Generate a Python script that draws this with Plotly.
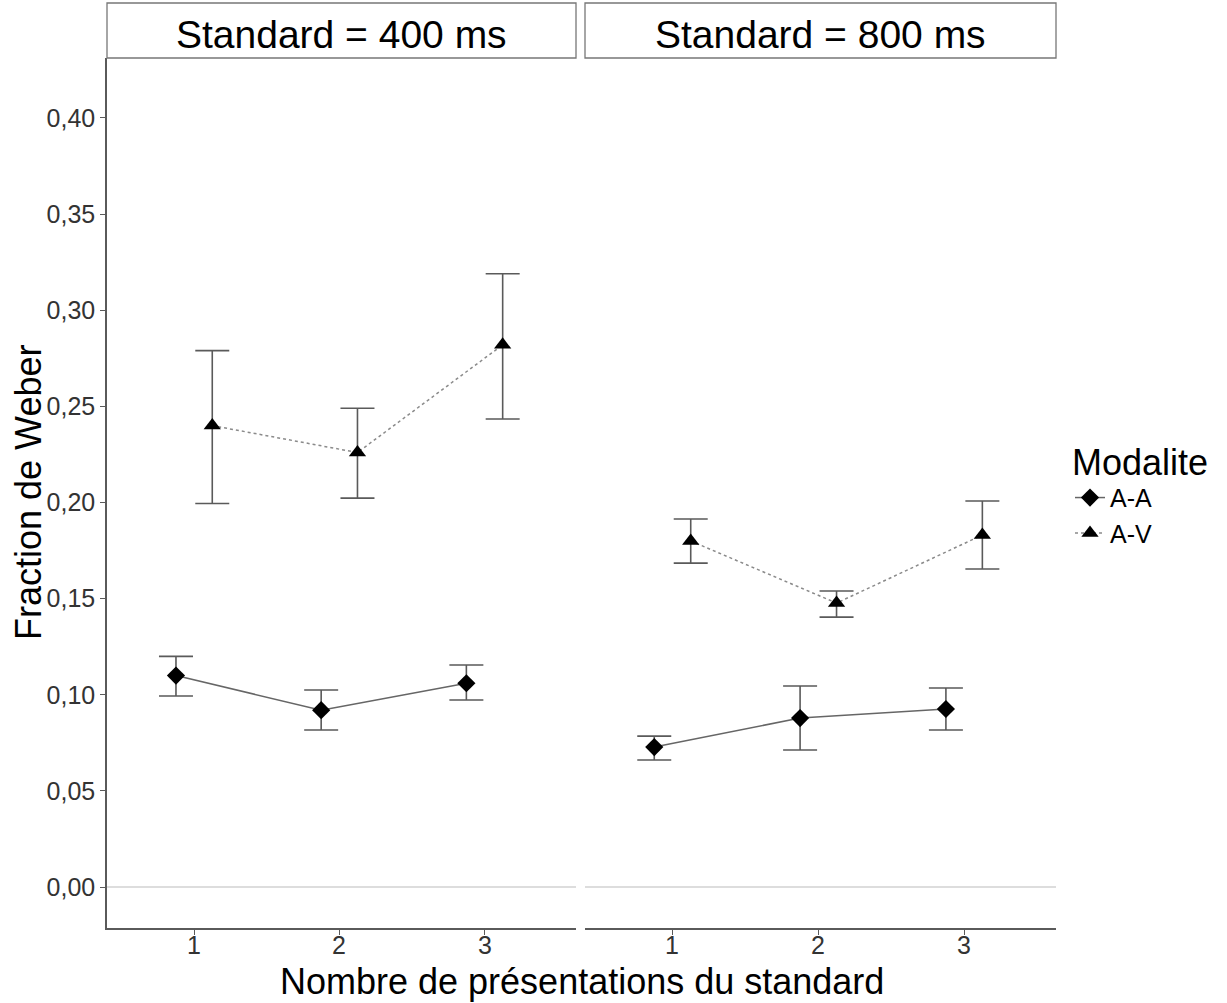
import plotly.graph_objects as go

# Weber fractions by number of presentations of the standard, per modality
presentations = [1, 2, 3]
tick_labels = ["1", "2", "3"]

aa_400 = [0.110, 0.092, 0.106]
aa_400_hi = [0.120, 0.1025, 0.1155]
aa_400_lo = [0.0994, 0.0817, 0.0973]

av_400 = [0.240, 0.226, 0.282]
av_400_hi = [0.279, 0.249, 0.319]
av_400_lo = [0.1995, 0.2023, 0.2434]

aa_800 = [0.0728, 0.0879, 0.0926]
aa_800_hi = [0.0785, 0.1046, 0.1035]
aa_800_lo = [0.0661, 0.0713, 0.0817]

av_800 = [0.180, 0.1477, 0.1831]
av_800_hi = [0.1914, 0.154, 0.2008]
av_800_lo = [0.1685, 0.1404, 0.1654]

y_ticks = [0.0, 0.05, 0.10, 0.15, 0.20, 0.25, 0.30, 0.35, 0.40]
y_tick_labels = ["0,00", "0,05", "0,10", "0,15", "0,20", "0,25", "0,30", "0,35", "0,40"]

panel_titles = ["Standard = 400 ms", "Standard = 800 ms"]
dodge = 0.125

FONT = "Liberation Sans, Arial, sans-serif"
GREY = "#5a5a5a"
TICK_FONT = dict(family=FONT, size=25, color="#333333")

fig = go.Figure()


def add_series(xaxis, yaxis, vals, hi, lo, offset, symbol, size, dash, lcolor, name, show):
    xs = [p + offset for p in presentations]
    fig.add_trace(go.Scatter(
        x=xs, y=vals, xaxis=xaxis, yaxis=yaxis,
        mode="lines+markers", name=name, legendgroup=name, showlegend=show,
        line=dict(color=lcolor, width=1.5, dash=dash),
        marker=dict(symbol=symbol, size=size, color="black"),
        error_y=dict(type="data", symmetric=False,
                     array=[h - v for h, v in zip(hi, vals)],
                     arrayminus=[v - l for v, l in zip(vals, lo)],
                     color=GREY, thickness=1.6, width=17),
    ))


add_series("x", "y", aa_400, aa_400_hi, aa_400_lo, -dodge, "diamond", 14, "solid", "#666666", "A-A", True)
add_series("x", "y", av_400, av_400_hi, av_400_lo, dodge, "triangle-up", 15, "dot", "#8a8a8a", "A-V", True)
add_series("x2", "y2", aa_800, aa_800_hi, aa_800_lo, -dodge, "diamond", 14, "solid", "#666666", "A-A", False)
add_series("x2", "y2", av_800, av_800_hi, av_800_lo, dodge, "triangle-up", 15, "dot", "#8a8a8a", "A-V", False)

W, H = 1227, 1003
left_dom = [107 / W, 576 / W]
right_dom = [585 / W, 1056 / W]
y_dom = [1 - 928 / H, 1 - 58 / H]
y_range = [-0.0213, 0.4312]
x_range = [0.4, 3.63]

# x tick marks come from the axes; their labels are placed just below the axis line
axis_common = dict(
    range=x_range, tickmode="array", tickvals=presentations, showticklabels=False,
    showgrid=False, zeroline=False, showline=True, linecolor=GREY, linewidth=1.5,
    ticks="outside", ticklen=5, tickcolor=GREY, tickwidth=1.2,
)

fig.update_layout(
    width=W, height=H,
    margin=dict(l=0, r=0, t=0, b=0),
    paper_bgcolor="white", plot_bgcolor="white",
    font=dict(family=FONT, color="black"),
    xaxis=dict(domain=left_dom, anchor="y", **axis_common),
    xaxis2=dict(domain=right_dom, anchor="y2", **axis_common),
    yaxis=dict(domain=y_dom, anchor="x", range=y_range, tickmode="array",
               tickvals=y_ticks, ticktext=y_tick_labels,
               showgrid=False, zeroline=False, showline=True, linecolor=GREY, linewidth=1.5,
               ticks="outside", ticklen=5, tickcolor=GREY, tickwidth=1.2,
               tickfont=TICK_FONT),
    yaxis2=dict(domain=y_dom, anchor="x2", range=y_range, showticklabels=False,
                showgrid=False, zeroline=False, showline=False, ticks=""),
    legend=dict(
        x=1070 / W, y=1 - 428 / H, xanchor="left", yanchor="top",
        title=dict(text="Modalite", font=dict(family=FONT, size=36, color="black")),
        font=dict(family=FONT, size=25, color="black"),
        itemwidth=30, tracegroupgap=0, bgcolor="rgba(0,0,0,0)",
    ),
)

for xr in ("x", "x2"):
    for v, lab in zip(presentations, tick_labels):
        fig.add_annotation(xref=xr, yref="paper", x=v, y=1 - 945 / H, text=lab,
                           showarrow=False, font=TICK_FONT,
                           xanchor="center", yanchor="middle", borderpad=0)

# Light reference line at zero in each panel
for xr, yr in (("x", "y"), ("x2", "y2")):
    fig.add_shape(type="line", xref=f"{xr} domain", yref=yr, x0=0, x1=1, y0=0, y1=0,
                  line=dict(color="#dddddd", width=2), layer="below")

# Facet strips
for dom, title in zip((left_dom, right_dom), panel_titles):
    fig.add_shape(type="rect", xref="paper", yref="paper",
                  x0=dom[0], x1=dom[1], y0=1 - 58 / H, y1=1 - 3 / H,
                  line=dict(color="#777777", width=1.3), fillcolor="white")
    fig.add_annotation(xref="paper", yref="paper", x=(dom[0] + dom[1]) / 2,
                       y=1 - 34 / H, text=title, showarrow=False,
                       font=dict(family=FONT, size=39, color="black"),
                       xanchor="center", yanchor="middle")

# Axis titles
fig.add_annotation(xref="paper", yref="paper", x=(left_dom[0] + right_dom[1]) / 2,
                   y=0, text="Nombre de présentations du standard",
                   showarrow=False, font=dict(family=FONT, size=36, color="black"),
                   xanchor="center", yanchor="bottom", borderpad=0)
fig.add_annotation(xref="paper", yref="paper", x=28 / W, y=1 - 493 / H,
                   text="Fraction de Weber", textangle=-90, showarrow=False,
                   font=dict(family=FONT, size=36, color="black"),
                   xanchor="center", yanchor="middle")

fig.write_html("out.html")
